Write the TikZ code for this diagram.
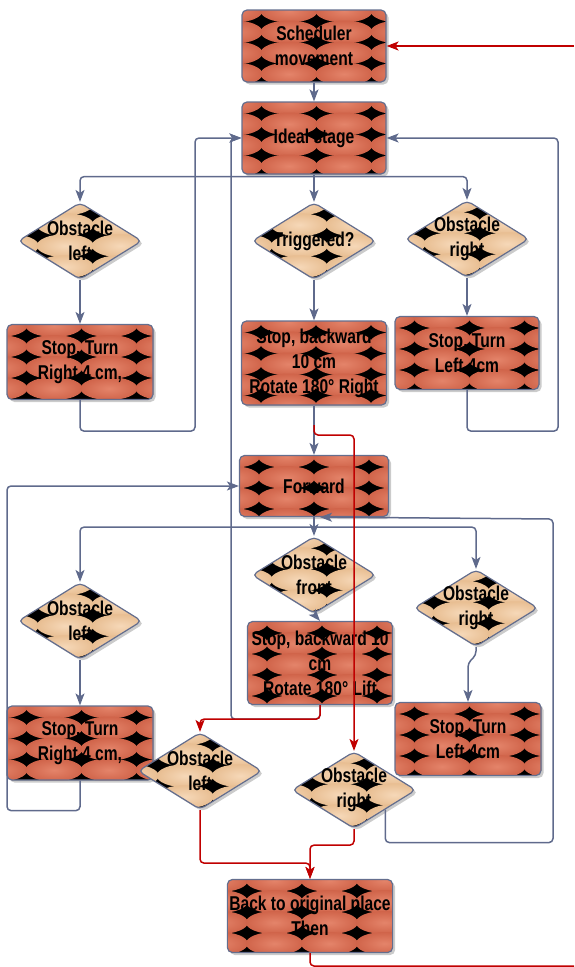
\documentclass[tikz,border=0pt]{standalone}
\usepackage{fontspec}
\setmainfont{Liberation Sans}[FakeStretch=0.78]
\usetikzlibrary{arrows.meta,shapes.geometric,shadows}
\definecolor{edgeC}{RGB}{95,106,140}
\definecolor{frameC}{RGB}{100,110,142}
\definecolor{redC}{RGB}{192,0,0}
\definecolor{brickO}{RGB}{208,100,74}
\definecolor{brickI}{RGB}{228,132,106}
\definecolor{sandO}{RGB}{232,190,146}
\definecolor{sandI}{RGB}{246,216,184}
\tikzset{
    texture/.style 2 args={
        path picture={
            \fill[black] (path picture bounding box.north west) rectangle (path picture bounding box.south east);
            \foreach \i in {0,...,4}{
                \foreach \j in {0,...,5}{
                    \shade[inner color=#2, outer color=#1]
                    ([shift={(\i*55-8,\j*21+1)}]path picture bounding box.north west)
                    ellipse [x radius=28.5, y radius=11.5];
                }
            }
        }
    },
    proc/.style={
        rectangle, rounded corners=5pt, draw=frameC, line width=1.2pt,
        texture={brickO}{brickI}, align=center, inner sep=2pt,
        drop shadow={shadow xshift=2.5pt, shadow yshift=-2.5pt, fill=black!45, opacity=.45}
    },
    dec/.style={
        diamond, rounded corners=5pt, draw=frameC, line width=1.2pt,
        texture={sandO}{sandI}, align=center, inner sep=-12pt,
        minimum width=124, minimum height=77,
        drop shadow={shadow xshift=2.5pt, shadow yshift=-2.5pt, fill=black!45, opacity=.45}
    },
    flow/.style={draw=edgeC, line width=1.5pt, rounded corners=4pt,
        -{Stealth[length=12pt,width=9pt,inset=3pt]}},
    rflow/.style={draw=redC, line width=1.5pt, rounded corners=4pt,
        -{Stealth[length=12pt,width=9pt,inset=3pt]}},
    rline/.style={draw=redC, line width=1.5pt, rounded corners=4pt}
}

\begin{document}
\begin{tikzpicture}[x=1pt,y=-1pt,font=\bfseries\fontsize{20}{25}\selectfont]
\useasboundingbox (0,0) rectangle (574,967);
% upper loop
\node[proc, minimum width=144, minimum height=72] (sched) at (314,46) {Scheduler\\movement};
\node[proc, minimum width=144, minimum height=72] (ideal) at (314,138) {Ideal stage};
\node[dec] (obsL1) at (80,241) {Obstacle\\left};
\node[dec] (trig) at (314,241) {Triggered?};
\node[dec] (obsR1) at (467,239) {Obstacle\\right};
\node[proc, minimum width=146, minimum height=75] (stopR1) at (80,362) {Stop, Turn\\Right 4 cm,};
\node[proc, minimum width=145, minimum height=84] (stopB1) at (314,363) {Stop, backward\\10 cm\\Rotate 180° Right};
\node[proc, minimum width=144, minimum height=73] (stopL1) at (467,353) {Stop, Turn\\Left 4cm};
% lower loop
\node[proc, minimum width=149, minimum height=61] (fwd) at (314,486) {Forward};
\node[dec] (obsL2) at (80,621) {Obstacle\\left};
\node[dec] (obsF) at (314,575) {Obstacle\\front};
\node[dec] (obsR2) at (476,608) {Obstacle\\right};
\node[proc, minimum width=145, minimum height=83] (stopB2) at (320,663) {Stop, backward 10\\cm\\Rotate 180° Lift};
\node[proc, minimum width=146, minimum height=74] (stopR2) at (80,743) {Stop, Turn\\Right 4 cm,};
\node[proc, minimum width=146, minimum height=73] (stopL2) at (468,739) {Stop, Turn\\Left 4cm};
\node[dec] (obsLr) at (200,771) {Obstacle\\left};
\node[dec] (obsR3) at (354,790) {Obstacle\\right};
\node[proc, minimum width=165, minimum height=73] (back) at (310,916) {Back to original place\\Then};
\coordinate (inR) at (574,46);
\coordinate (tap) at (314,425);
\coordinate (outR) at (574,966);

% grey connectors
\draw[flow] (sched) -- (ideal);
\draw[flow] ([yshift=-2pt]ideal.south) -| (obsL1);
\draw[flow] (ideal) -- (trig);
\draw[flow] ([yshift=-2pt]ideal.south) -| (obsR1);
\draw[flow] (obsL1) -- (stopR1);
\draw[flow] (trig) -- (stopB1);
\draw[flow] (obsR1) -- (stopL1);
\draw[flow] (stopR1.south) -- ++(0,31) -- ++(115,0) |- (ideal.west);
\draw[flow] (stopL1.south) -- ++(0,41) -- ++(91,0) |- (ideal.east);
\draw[flow] (stopB1) -- (fwd);
\draw[flow] (fwd) -- (obsF);
\draw[flow] ([yshift=-10pt]fwd.south) -| (obsL2);
\draw[flow] ([yshift=-10pt]fwd.south) -| (obsR2);
\draw[flow] (obsF.south) -- (stopB2.north);
\draw[flow] (obsL2) -- (stopR2);
\draw[flow] (obsR2.south) -- ++(0,8) -- ++(-8,8) -- (stopL2.north);
\draw[flow] (stopR2.south) -- ++(0,30) -- ++(-73,0) |- (fwd.west);
\draw[flow] (stopB2.south) -- ++(0,14) -- ++(-89,0) |- (ideal.west);
\draw[flow] (obsR3.south east) -- ++(0,33) -| (553,519) -- ([xshift=6pt]fwd.south);

% red connectors
\draw[rflow] (inR) -- (sched);
\draw[rflow] (tap) -- ++(0,10) -| (obsR3);
\draw[rflow] (stopB2.south) -- ++(0,14) -| (obsLr);
\draw[rflow] (obsLr.south) -- ++(0,53) -| (back);
\draw[rflow] (obsR3.south) -- ++(0,16) -| (back);
\draw[rline] (back.south) |- (outR);
\end{tikzpicture}
\end{document}
